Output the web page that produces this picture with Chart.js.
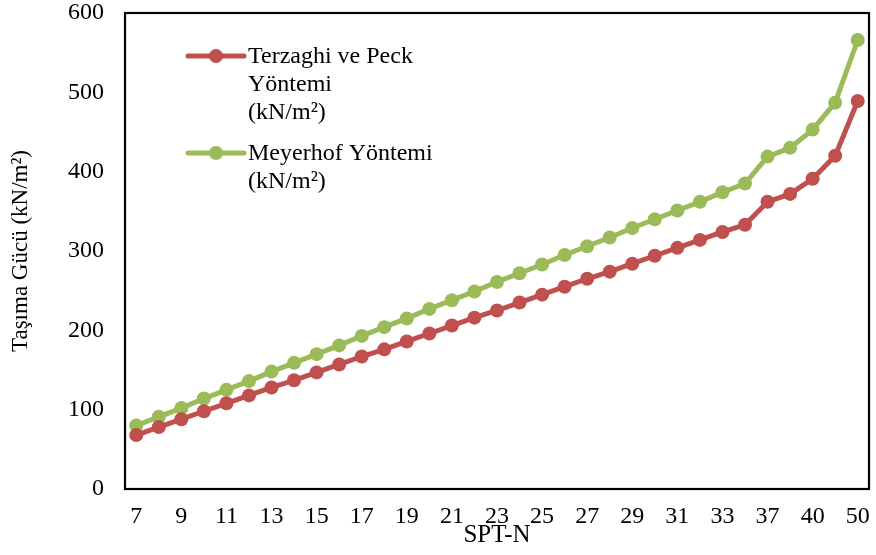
<!DOCTYPE html>
<html>
<head>
<meta charset="utf-8">
<script src="https://cdn.jsdelivr.net/npm/chart.js@4.4.1/dist/chart.umd.min.js"></script>
<style>
  html, body { margin: 0; padding: 0; background: #fff; }
  #wrap { width: 876px; height: 555px; position: relative; }
</style>
</head>
<body>
<div id="wrap"><canvas id="c" width="876" height="555"></canvas></div>
<script>
// SPT-N blow counts (x categories)
const sptN = [7, 8, 9, 10, 11, 12, 13, 14, 15, 16, 17, 18, 19, 20, 21, 22, 23, 24, 25, 26, 27, 28, 29, 30, 31, 32, 33, 35, 37, 38, 40, 45, 50];

// Bearing capacity, Terzaghi & Peck method (kN/m²)
const terzaghiPeck = [68, 78, 88, 98, 108, 118, 128, 137, 147, 157, 167, 176, 186, 196, 206, 216, 225, 235, 245, 255, 265, 274, 284, 294, 304, 314, 324, 333, 362, 372, 391, 420, 489];

// Bearing capacity, Meyerhof method (kN/m²)
const meyerhof = [80, 91, 102, 114, 125, 136, 148, 159, 170, 181, 193, 204, 215, 227, 238, 249, 261, 272, 283, 295, 306, 317, 329, 340, 351, 362, 374, 385, 419, 430, 453, 487, 566];

// Legend text, one entry per series, split into display lines
const legendLines = [
  ["Terzaghi ve Peck", "Yöntemi", "(kN/m²)"],
  ["Meyerhof Yöntemi", "(kN/m²)"]
];

const yTicks = [0, 100, 200, 300, 400, 500, 600];

const RED = '#C0504D';
const GREEN = '#9BBB59';
const FONT = '"Liberation Serif", "Times New Roman", serif';

// Black frame around the plot area
const framePlugin = {
  id: 'frame',
  beforeDatasetsDraw(chart) {
    const { ctx, chartArea: a } = chart;
    ctx.save();
    ctx.strokeStyle = '#000';
    ctx.lineWidth = 2.2;
    ctx.strokeRect(a.left, a.top, a.right - a.left, a.bottom - a.top);
    ctx.restore();
  }
};

// Multi-line legend drawn inside the plot area
const legendPlugin = {
  id: 'wrappedLegend',
  afterDatasetsDraw(chart) {
    const { ctx } = chart;
    const x0 = 188, x1 = 244, textX = 248;
    const rowTops = [56, 153];
    const lineGap = 28;
    ctx.save();
    ctx.font = '24px ' + FONT;
    ctx.textBaseline = 'middle';
    ctx.textAlign = 'left';
    chart.data.datasets.forEach((ds, i) => {
      const y = rowTops[i];
      ctx.strokeStyle = ds.borderColor;
      ctx.lineWidth = ds.borderWidth;
      ctx.lineCap = 'round';
      ctx.beginPath();
      ctx.moveTo(x0, y);
      ctx.lineTo(x1, y);
      ctx.stroke();
      ctx.fillStyle = ds.pointBackgroundColor;
      ctx.beginPath();
      ctx.arc((x0 + x1) / 2, y, ds.pointRadius, 0, Math.PI * 2);
      ctx.fill();
      ctx.fillStyle = '#000';
      legendLines[i].forEach((t, k) => ctx.fillText(t, textX, y + 1 + k * lineGap));
    });
    ctx.restore();
  }
};

new Chart(document.getElementById('c'), {
  type: 'line',
  data: {
    labels: sptN,
    datasets: [
      {
        label: legendLines[0].join(' '),
        data: terzaghiPeck,
        borderColor: RED,
        backgroundColor: RED,
        pointBackgroundColor: RED,
        pointBorderColor: RED,
        borderWidth: 5,
        pointRadius: 7,
        pointBorderWidth: 0,
        tension: 0
      },
      {
        label: legendLines[1].join(' '),
        data: meyerhof,
        borderColor: GREEN,
        backgroundColor: GREEN,
        pointBackgroundColor: GREEN,
        pointBorderColor: GREEN,
        borderWidth: 5,
        pointRadius: 7,
        pointBorderWidth: 0,
        tension: 0
      }
    ]
  },
  options: {
    responsive: false,
    animation: false,
    layout: { padding: { left: 0, right: 6, top: 13, bottom: 3 } },
    plugins: {
      legend: { display: false },
      tooltip: { enabled: false }
    },
    scales: {
      x: {
        offset: true,
        grid: { display: false, drawTicks: false },
        border: { display: false },
        ticks: {
          autoSkip: false,
          maxRotation: 0,
          padding: 16,
          color: '#000',
          font: { family: FONT, size: 24, lineHeight: 1 },
          callback: function (v, i) { return i % 2 === 0 ? String(sptN[i]) : ''; }
        },
        title: {
          display: true,
          text: 'SPT-N',
          color: '#000',
          font: { family: FONT, size: 25, lineHeight: 1 },
          padding: { top: 0, bottom: 4 }
        },
        afterFit(scale) {
          scale.height = 63;
          scale.paddingLeft = 0;
          scale.paddingRight = 0;
        }
      },
      y: {
        min: 0,
        max: 600,
        afterBuildTicks(scale) { scale.ticks = yTicks.map(v => ({ value: v })); },
        grid: { display: false, drawTicks: false },
        border: { display: false },
        ticks: {
          padding: 21,
          color: '#000',
          font: { family: FONT, size: 24, lineHeight: 1 }
        },
        title: {
          display: true,
          text: 'Taşıma Gücü (kN/m²)',
          color: '#000',
          font: { family: FONT, size: 23, lineHeight: 1 },
          padding: { top: 9, bottom: 0 }
        },
        afterFit(scale) {
          scale.width = 125;
          scale.paddingTop = 0;
          scale.paddingBottom = 0;
        }
      }
    }
  },
  plugins: [framePlugin, legendPlugin]
});
</script>
</body>
</html>
